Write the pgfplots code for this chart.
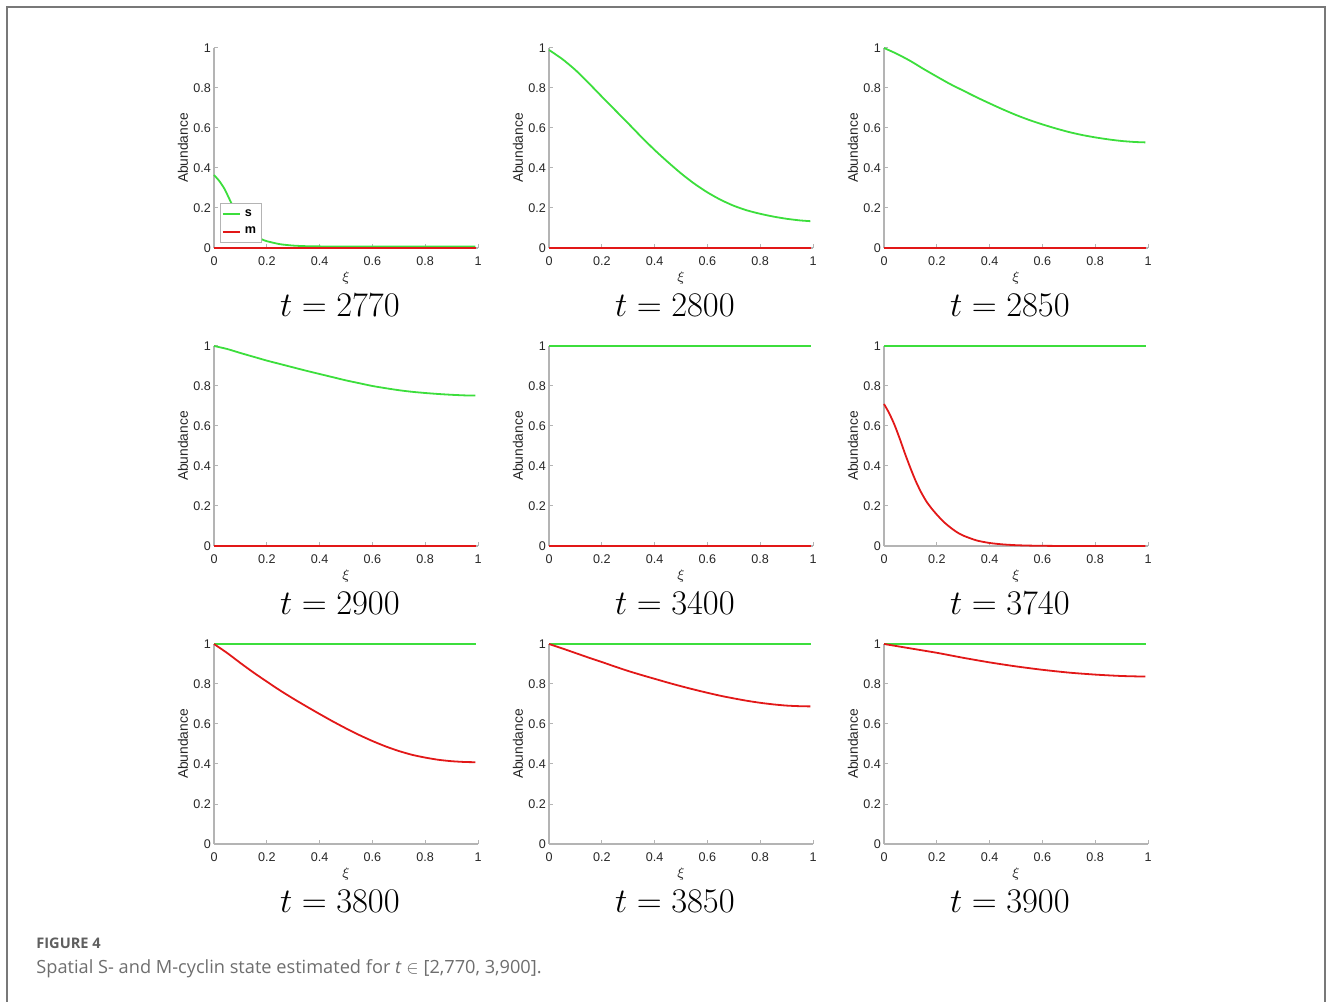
\documentclass[border=0pt]{standalone}
\usepackage{fontspec}
\setmainfont{Liberation Sans}
\newfontfamily\capfont{Open Sans}
\usepackage{pgfplots}
\pgfplotsset{compat=1.18}
\definecolor{sgreen}{RGB}{60,222,60}
\definecolor{mred}{RGB}{226,24,24}
\definecolor{tickgray}{RGB}{38,38,38}
\definecolor{axgray}{RGB}{180,180,180}
\definecolor{capgray}{RGB}{95,95,95}
\definecolor{capgray2}{RGB}{110,110,110}
\definecolor{framegray}{RGB}{120,120,120}

\pgfplotsset{
  panel/.style={
    scale only axis, width=132pt, height=100pt,
    anchor=south west,
    xmin=0, xmax=1, ymin=0, ymax=1,
    axis x line*=bottom, axis y line*=left,
    axis line style={draw=axgray, line width=0.6pt},
    xtick={0,0.2,0.4,0.6,0.8,1}, ytick={0,0.2,0.4,0.6,0.8,1},
    tick align=inside, major tick length=2pt,
    tick style={draw=axgray, line width=0.5pt},
    /pgf/number format/assume math mode=true,
    ticklabel style={font=\fontsize{6.3}{7}\selectfont, text=tickgray},
    yticklabel style={xshift=2pt},
    xticklabel style={yshift=-1pt},
    xlabel={$\xi$},
    xlabel style={at={(axis description cs:0.5,-0.15)}, anchor=center,
      font=\fontsize{7}{8}\selectfont, text=tickgray},
    ylabel={Abundance},
    ylabel style={at={(axis description cs:-0.1175,0.5)}, anchor=center,
      font=\fontsize{6.9}{8}\selectfont, text=tickgray},
    every axis title shift=0pt,
    title style={at={(axis description cs:0.477,-0.285)}, anchor=center,
      font=\fontsize{18.5}{20}\selectfont},
    clip=false,
  },
  sline/.style={color=sgreen, line width=0.9pt, no markers, smooth, tension=0.4},
  mline/.style={color=mred, line width=0.9pt, no markers, smooth, tension=0.4},
}

\begin{document}
\begin{tikzpicture}
\useasboundingbox (0pt,0pt) rectangle (663.5pt,500.5pt);

% frame
\draw[framegray, line width=0.6pt] (3.5pt,-2pt) -- (3.5pt,497pt) -- (662.5pt,497pt) -- (662.5pt,-2pt);

% Row 1
\begin{axis}[panel, at={(107pt,376.5pt)}, title={$t = 2770$},
  legend cell align=left,
  legend style={at={(axis cs:0.023,0.025)}, anchor=south west, draw=axgray,
    font=\fontsize{6.3}{6.3}\selectfont\bfseries, inner sep=0.8pt},
  legend image code/.code={\draw[#1] (0pt,0pt) -- (8.5pt,0pt);}]
\addplot[sline] coordinates {(0,0.365)(0.02,0.335)(0.04,0.295)(0.06,0.24)(0.08,0.185)(0.1,0.14)(0.12,0.105)(0.14,0.078)(0.16,0.058)(0.18,0.044)(0.2,0.034)(0.25,0.019)(0.3,0.012)(0.35,0.009)(0.4,0.008)(0.5,0.007)(0.99,0.007)};
\addlegendentry{s}
\addplot[mline] coordinates {(0,0)(0.99,0)};
\addlegendentry{m}
\end{axis}

\begin{axis}[panel, at={(274.5pt,376.5pt)}, title={$t = 2800$}]
\addplot[sline] coordinates {(0,0.99)(0.05,0.945)(0.1,0.89)(0.15,0.825)(0.2,0.757)(0.25,0.69)(0.3,0.623)(0.35,0.555)(0.4,0.49)(0.45,0.43)(0.5,0.373)(0.55,0.322)(0.6,0.278)(0.65,0.241)(0.7,0.211)(0.75,0.188)(0.8,0.171)(0.85,0.157)(0.9,0.146)(0.95,0.138)(0.99,0.134)};
\addplot[mline] coordinates {(0,0)(0.99,0)};
\end{axis}

\begin{axis}[panel, at={(442pt,376.5pt)}, title={$t = 2850$}]
\addplot[sline] coordinates {(0,1.0)(0.05,0.97)(0.1,0.935)(0.15,0.895)(0.2,0.857)(0.25,0.82)(0.3,0.787)(0.35,0.754)(0.4,0.723)(0.45,0.693)(0.5,0.665)(0.55,0.64)(0.6,0.618)(0.65,0.598)(0.7,0.58)(0.75,0.565)(0.8,0.553)(0.85,0.543)(0.9,0.535)(0.95,0.53)(0.99,0.528)};
\addplot[mline] coordinates {(0,0)(0.99,0)};
\end{axis}

% Row 2
\begin{axis}[panel, at={(107pt,227.5pt)}, title={$t = 2900$}]
\addplot[sline] coordinates {(0,1.0)(0.05,0.985)(0.1,0.965)(0.15,0.946)(0.2,0.927)(0.25,0.91)(0.3,0.893)(0.35,0.876)(0.4,0.86)(0.45,0.844)(0.5,0.828)(0.55,0.814)(0.6,0.8)(0.65,0.789)(0.7,0.779)(0.75,0.771)(0.8,0.765)(0.85,0.76)(0.9,0.756)(0.95,0.753)(0.99,0.752)};
\addplot[mline] coordinates {(0,0)(0.99,0)};
\end{axis}

\begin{axis}[panel, at={(274.5pt,227.5pt)}, title={$t = 3400$}]
\addplot[sline] coordinates {(0,1)(0.99,1)};
\addplot[mline] coordinates {(0,0)(0.99,0)};
\end{axis}

\begin{axis}[panel, at={(442pt,227.5pt)}, title={$t = 3740$}]
\addplot[sline] coordinates {(0,1)(0.99,1)};
\addplot[mline] coordinates {(0,0.71)(0.02,0.663)(0.04,0.605)(0.06,0.535)(0.08,0.46)(0.1,0.39)(0.12,0.325)(0.14,0.27)(0.16,0.224)(0.18,0.188)(0.2,0.157)(0.225,0.122)(0.25,0.094)(0.275,0.07)(0.3,0.052)(0.35,0.028)(0.4,0.015)(0.45,0.008)(0.5,0.004)(0.55,0.002)(0.6,0.001)(0.7,0)(0.99,0)};
\end{axis}

% Row 3
\begin{axis}[panel, at={(107pt,78.5pt)}, title={$t = 3800$}]
\addplot[sline] coordinates {(0,1)(0.99,1)};
\addplot[mline] coordinates {(0,1.0)(0.05,0.955)(0.1,0.905)(0.15,0.857)(0.2,0.812)(0.25,0.768)(0.3,0.727)(0.35,0.688)(0.4,0.65)(0.45,0.613)(0.5,0.578)(0.55,0.545)(0.6,0.515)(0.65,0.488)(0.7,0.465)(0.75,0.446)(0.8,0.432)(0.85,0.421)(0.9,0.414)(0.95,0.41)(0.99,0.409)};
\end{axis}

\begin{axis}[panel, at={(274.5pt,78.5pt)}, title={$t = 3850$}]
\addplot[sline] coordinates {(0,1)(0.99,1)};
\addplot[mline] coordinates {(0,1.0)(0.05,0.978)(0.1,0.955)(0.15,0.932)(0.2,0.91)(0.25,0.887)(0.3,0.865)(0.35,0.845)(0.4,0.826)(0.45,0.807)(0.5,0.789)(0.55,0.772)(0.6,0.756)(0.65,0.741)(0.7,0.728)(0.75,0.716)(0.8,0.706)(0.85,0.698)(0.9,0.692)(0.95,0.689)(0.99,0.688)};
\end{axis}

\begin{axis}[panel, at={(442pt,78.5pt)}, title={$t = 3900$}]
\addplot[sline] coordinates {(0,1)(0.99,1)};
\addplot[mline] coordinates {(0,1.0)(0.1,0.978)(0.2,0.956)(0.3,0.931)(0.4,0.908)(0.5,0.888)(0.6,0.871)(0.7,0.857)(0.8,0.847)(0.9,0.84)(0.99,0.837)};
\end{axis}

% caption
\node[anchor=base west, inner sep=0pt] at (18pt,26.5pt)
  {\capfont\bfseries\fontsize{7.3}{9}\selectfont\color{capgray}FIGURE 4};
\node[anchor=base west, inner sep=0pt] at (18pt,14pt)
  {\capfont\fontsize{9.1}{11}\selectfont\color{capgray2}Spatial S- and M-cyclin state estimated for \textit{t} $\in$ [2,770, 3,900].};
\end{tikzpicture}
\end{document}
